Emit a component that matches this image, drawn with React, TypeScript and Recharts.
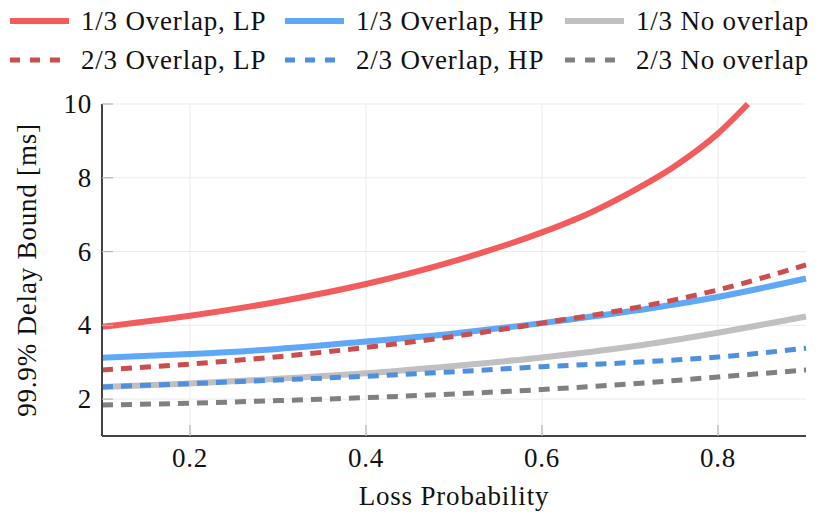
import React from 'react';
import { LineChart, Line, XAxis, YAxis, CartesianGrid } from 'recharts';

const xs = [0.1, 0.2, 0.3, 0.4, 0.5, 0.6, 0.7, 0.8, 0.9];
const lpOneX = [0.1, 0.2, 0.3, 0.4, 0.5, 0.6, 0.65, 0.7, 0.75, 0.8, 0.834];
const lpOne = [3.96, 4.26, 4.64, 5.12, 5.74, 6.52, 7.0, 7.6, 8.3, 9.2, 10.0];
const hpOne = [3.12, 3.22, 3.36, 3.56, 3.78, 4.06, 4.38, 4.77, 5.27];
const noOne = [2.33, 2.42, 2.55, 2.7, 2.9, 3.13, 3.42, 3.8, 4.24];
const lpTwo = [2.79, 2.95, 3.15, 3.4, 3.7, 4.06, 4.45, 4.96, 5.64];
const hpTwo = [2.33, 2.42, 2.52, 2.62, 2.74, 2.88, 2.99, 3.14, 3.38];
const noTwo = [1.84, 1.89, 1.96, 2.04, 2.14, 2.26, 2.41, 2.6, 2.79];

const xTicks = [0.2, 0.4, 0.6, 0.8];
const yTicks = [2, 4, 6, 8, 10];

const toPoints = (px: number[], py: number[]) => px.map((x, i) => ({ x, y: py[i] }));

const series = [
  { name: '1/3 Overlap, LP', data: toPoints(lpOneX, lpOne), color: '#f25c5c', dash: false },
  { name: '1/3 Overlap, HP', data: toPoints(xs, hpOne), color: '#5fa8f7', dash: false },
  { name: '1/3 No overlap', data: toPoints(xs, noOne), color: '#c0c0c0', dash: false },
  { name: '2/3 Overlap, LP', data: toPoints(xs, lpTwo), color: '#cc4d4d', dash: true },
  { name: '2/3 Overlap, HP', data: toPoints(xs, hpTwo), color: '#4f8fe0', dash: true },
  { name: '2/3 No overlap', data: toPoints(xs, noTwo), color: '#808080', dash: true },
];

// solids under dashed, grey at the bottom
const drawOrder = [2, 1, 0, 5, 4, 3];

const font = "'Liberation Serif', 'Times New Roman', serif";
const textStyle = { fontFamily: font, fontSize: 27, letterSpacing: 0.8, fill: '#111' };

const XTick = (props: any) => {
  const { x, y, payload } = props;
  return (
    <g>
      <line x1={x} y1={y} x2={x} y2={y - 11} stroke="#b5b5b5" strokeWidth={1.2} />
      <text x={x} y={y + 31} textAnchor="middle" style={textStyle}>
        {payload.value}
      </text>
    </g>
  );
};

const YTick = (props: any) => {
  const { x, y, payload } = props;
  return (
    <g>
      <line x1={x} y1={y} x2={x + 11} y2={y} stroke="#b5b5b5" strokeWidth={1.2} />
      <text x={x - 10} y={y + 9} textAnchor="end" style={textStyle}>
        {payload.value}
      </text>
    </g>
  );
};

const legendCols = [10, 285, 565];
const legendRows = [21, 60];

function ChartLegend() {
  return (
    <svg width={822} height={80} style={{ position: 'absolute', left: 0, top: 0 }}>
      {series.map((s, i) => {
        const lx = legendCols[i % 3];
        const ly = legendRows[Math.floor(i / 3)];
        return (
          <g key={s.name}>
            <line
              x1={lx}
              y1={ly}
              x2={lx + 59}
              y2={ly}
              stroke={s.color}
              strokeWidth={s.dash ? 5 : 6}
              strokeDasharray={s.dash ? '10 10' : undefined}
            />
            <text x={lx + 71} y={ly + 9} style={textStyle}>
              {s.name}
            </text>
          </g>
        );
      })}
    </svg>
  );
}

export default function App() {
  return (
    <div style={{ position: 'absolute', left: 0, top: 0, width: 822, height: 517, background: '#fff' }}>
      <LineChart width={822} height={517} margin={{ top: 104, right: 16, bottom: 0, left: 0 }}>
        <CartesianGrid stroke="#ebebeb" strokeWidth={1} horizontalValues={yTicks} verticalValues={xTicks} />
        <XAxis
          type="number"
          dataKey="x"
          domain={[0.1, 0.9]}
          ticks={xTicks}
          height={81}
          tickSize={0}
          tickMargin={0}
          tickLine={false}
          tick={<XTick />}
          stroke="#444"
          strokeWidth={2}
          allowDuplicatedCategory={false}
          label={{
            value: 'Loss Probability',
            position: 'insideBottom',
            offset: 12,
            style: { ...textStyle, textAnchor: 'middle' },
          }}
        />
        <YAxis
          type="number"
          domain={[1, 10]}
          ticks={yTicks}
          width={102}
          tickSize={0}
          tickMargin={0}
          tickLine={false}
          tick={<YTick />}
          stroke="#444"
          strokeWidth={2}
          label={{
            content: (p: any) => {
              const vb = p.viewBox;
              const cy = vb.y + vb.height / 2;
              return (
                <text
                  x={27}
                  y={cy}
                  transform={`rotate(-90 27 ${cy})`}
                  textAnchor="middle"
                  dominantBaseline="central"
                  style={textStyle}
                >
                  99.9% Delay Bound [ms]
                </text>
              );
            },
          }}
        />
        {drawOrder.map((i) => {
          const s = series[i];
          return (
            <Line
              key={s.name}
              data={s.data}
              dataKey="y"
              name={s.name}
              type="monotone"
              stroke={s.color}
              strokeWidth={s.dash ? 5 : 6}
              strokeDasharray={s.dash ? '11 8' : undefined}
              dot={false}
              activeDot={false}
              isAnimationActive={false}
            />
          );
        })}
      </LineChart>
      <ChartLegend />
    </div>
  );
}
